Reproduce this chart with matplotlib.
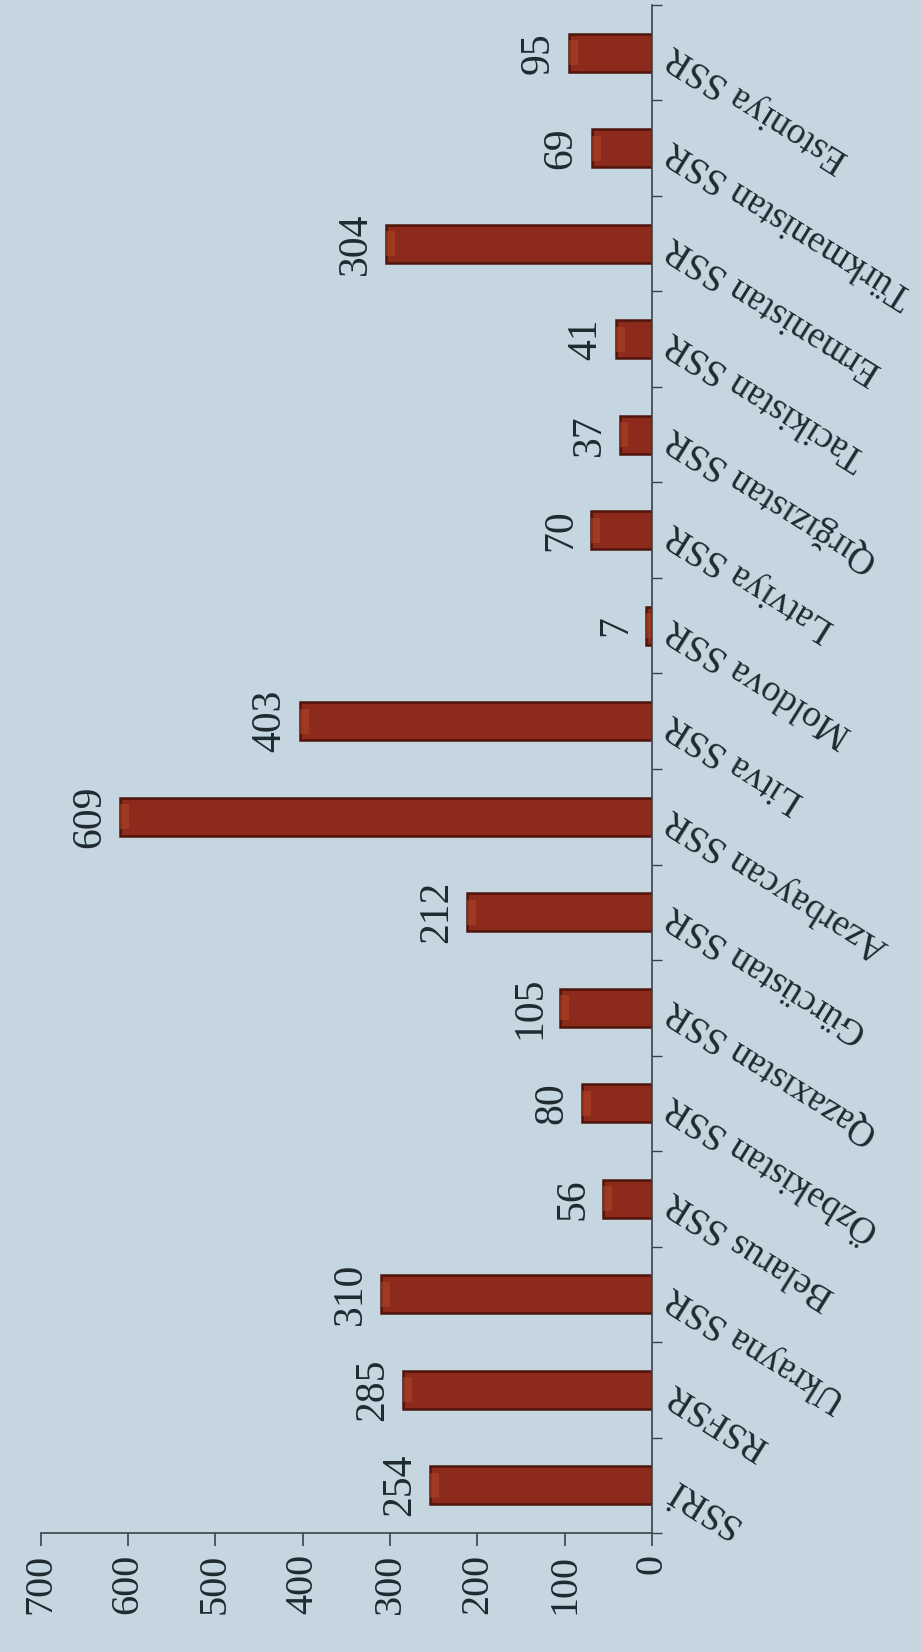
import numpy as np
import matplotlib
matplotlib.use("Agg")
import matplotlib.pyplot as plt
from matplotlib.ticker import FixedLocator

# respublikalar (asagidan yuxariya) ve qiymetler
categories = ["SSRİ", "RSFSR", "Ukrayna SSR", "Belarus SSR", "Özbəkistan SSR",
              "Qazaxıstan SSR", "Gürcüstan SSR", "Azərbaycan SSR", "Litva SSR",
              "Moldova SSR", "Latviya SSR", "Qırğızıstan SSR", "Tacikistan SSR",
              "Ermənistan SSR", "Türkmənistan SSR", "Estoniya SSR"]
values = [254, 285, 310, 56, 80, 105, 212, 609, 403, 7, 70, 37, 41, 304, 69, 95]
value_ticks = [0, 100, 200, 300, 400, 500, 600, 700]

plt.rcParams['font.family'] = ['Liberation Serif', 'DejaVu Serif']
text_color = '#1f2a30'
axis_color = '#3a4248'

fig = plt.figure(figsize=(9.21, 16.52), dpi=100)
fig.patch.set_facecolor('#c6d6e0')
ax = fig.add_axes([0.044, 0.072, 0.664, 0.925])
ax.set_facecolor('none')

pos = np.arange(len(categories))
ax.barh(pos, values, height=0.4, color='#8c2b1b', edgecolor='#4f140c', linewidth=1.8)
# ucda zeif parlaq hisse (3D gorunus ucun)
cap = [min(v, 10) for v in values]
ax.barh(pos, cap, left=[v - c for v, c in zip(values, cap)], height=0.26,
        color='#b04529', edgecolor='none', alpha=0.55)

# sekil 90 derece firladilib: deyer oxu asagida, sifir sagda
ax.set_xlim(700, 0)
ax.set_ylim(-0.5, len(categories) - 0.5)

ax.spines['top'].set_visible(False)
ax.spines['left'].set_visible(False)
for side in ['right', 'bottom']:
    ax.spines[side].set_color(axis_color)
    ax.spines[side].set_linewidth(1.2)

ax.set_xticks(value_ticks)
ax.set_xticklabels([str(v) for v in value_ticks], rotation=90, fontsize=29,
                   color=text_color)
ax.tick_params(axis='x', direction='out', length=9, width=1.2, color=axis_color, pad=6)

ax.yaxis.tick_right()
ax.set_yticks(pos)
ax.set_yticklabels(categories, fontsize=27, color=text_color)
for lab in ax.get_yticklabels():
    lab.set_rotation(148)
    lab.set_rotation_mode('anchor')
    lab.set_horizontalalignment('right')
    lab.set_verticalalignment('center')
ax.tick_params(axis='y', which='major', length=0, pad=12)
ax.yaxis.set_minor_locator(FixedLocator(np.arange(-0.5, len(categories), 1.0)))
ax.tick_params(axis='y', which='minor', direction='out', length=7, width=1.0,
               color=axis_color)

for i, v in enumerate(values):
    ax.annotate(str(v), xy=(v, i), xytext=(-8, 0), textcoords='offset points',
                rotation=90, ha='right', va='center', fontsize=30, color=text_color)

fig.savefig('out.png', dpi=100, facecolor=fig.get_facecolor())
